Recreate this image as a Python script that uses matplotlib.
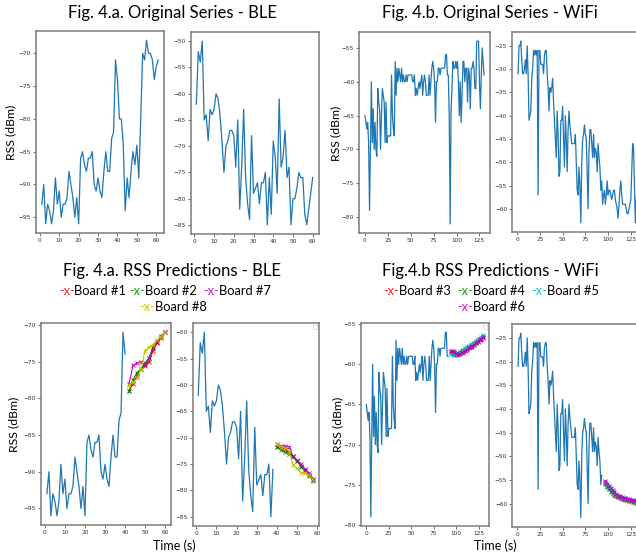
import numpy as np
import matplotlib
matplotlib.use("Agg")
import matplotlib.pyplot as plt
from matplotlib.offsetbox import TextArea, HPacker, AnnotationBbox

# ---- data ----
ble1 = [-93, -90, -96, -93, -94, -96, -94, -89, -93, -91, -95, -93, -93, -92, -88,
        -90, -92, -95, -92, -96, -86, -85, -87, -88, -86, -86, -85, -90, -91, -89,
        -91, -92, -88, -85, -88, -88, -83, -82, -71, -74, -80, -80, -84, -94, -89,
        -92, -88, -85, -87, -84, -89, -80, -70, -71, -68, -70, -70, -71, -74, -72, -71]
ble2 = [-62, -52, -54, -50, -65, -64, -69, -63, -64, -63, -60, -61, -64, -69, -75,
        -70, -69, -67, -67, -68, -74, -65, -82, -74, -63, -76, -81, -84, -68, -79,
        -78, -77, -81, -77, -77, -75, -85, -76, -83, -69, -72, -79, -61, -74, -72,
        -67, -76, -74, -85, -80, -80, -78, -75, -76, -76, -83, -85, -82, -79, -76]
wifi1 = [-65, -66, -67, -66, -69, -79, -69, -60, -69, -64, -70, -66, -70, -71, -61,
         -63, -64, -70, -65, -61, -62, -63, -69, -63, -69, -68, -68, -68, -68, -59,
         -65, -67, -68, -57, -62, -58, -60, -58, -59, -60, -58, -60, -59, -60, -60,
         -59, -60, -59, -59, -59, -59, -59, -60, -60, -59, -62, -61, -62, -61, -60,
         -61, -60, -59, -62, -60, -59, -60, -62, -62, -62, -59, -62, -60, -58, -57,
         -58, -60, -66, -60, -60, -58, -58, -59, -58, -58, -58, -58, -58, -56, -56,
         -59, -59, -65, -81, -64, -61, -57, -58, -58, -57, -58, -57, -60, -65, -60,
         -66, -62, -57, -57, -60, -58, -58, -63, -58, -59, -64, -58, -58, -57, -58,
         -61, -61, -54, -54, -54, -60, -64, -59, -55, -57, -59]
wifi2 = [-31, -25, -25, -24, -28, -31, -31, -30, -28, -31, -25, -31, -41, -40, -39,
         -32, -30, -26, -27, -26, -27, -26, -57, -26, -26, -29, -29, -29, -31, -27,
         -26, -26, -31, -34, -39, -34, -35, -34, -32, -37, -41, -45, -49, -39, -44,
         -53, -52, -41, -41, -38, -45, -51, -40, -45, -52, -43, -39, -42, -44, -46,
         -46, -46, -46, -44, -50, -56, -57, -51, -55, -63, -50, -45, -44, -42, -44,
         -45, -52, -60, -48, -43, -43, -46, -49, -44, -49, -47, -48, -52, -46, -49,
         -51, -56, -54, -59, -57, -56, -59, -57, -54, -57, -56, -56, -57, -58, -57,
         -56, -56, -58, -59, -60, -62, -59, -56, -54, -57, -59, -59, -59, -59, -60,
         -61, -61, -60, -59, -58, -52, -46, -47, -55, -63, -58, -55, -51, -49, -51]

# how much of each series is shown as history in the prediction plots
ble1_hist = 40
ble2_hist = 38
wifi1_hist = 92
wifi2_hist = 93

ble1_pred_t = np.arange(42, 61, 2)
ble1_preds = {
    "#1": [-79.0, -78.0, -77.0, -76.0, -75.5, -75.0, -73.5, -72.5, -71.8, -71.0],
    "#2": [-79.0, -77.5, -76.5, -76.0, -75.2, -74.5, -73.0, -72.3, -71.5, -71.0],
    "#7": [-78.0, -75.5, -75.2, -75.0, -75.6, -74.5, -73.2, -72.4, -71.6, -71.0],
    "#8": [-78.2, -77.8, -77.3, -76.0, -73.5, -73.0, -72.7, -72.0, -71.6, -71.0],
}
ble2_pred_t = np.arange(40, 59, 2)
ble2_preds = {
    "#1": [-71.7, -71.8, -72.2, -72.8, -73.5, -74.5, -75.3, -76.2, -77.0, -78.0],
    "#2": [-71.8, -72.3, -72.7, -73.0, -73.7, -74.5, -75.5, -76.3, -77.2, -78.3],
    "#7": [-71.2, -71.6, -71.6, -71.7, -73.5, -74.3, -75.0, -76.0, -76.7, -77.8],
    "#8": [-71.2, -71.7, -72.0, -72.5, -75.2, -75.8, -76.7, -76.7, -77.0, -78.0],
}
wifi1_pred_t = np.arange(94, 131, 2)
wifi1_preds = {
    "#3": [-58.4, -58.5, -58.6, -58.7, -58.7, -58.6, -58.5, -58.4, -58.2, -58.1,
           -57.9, -57.8, -57.6, -57.5, -57.3, -57.1, -57.0, -56.8, -56.7],
    "#4": [-58.5, -58.6, -58.7, -58.7, -58.6, -58.5, -58.4, -58.3, -58.2, -58.0,
           -57.9, -57.7, -57.6, -57.4, -57.2, -57.1, -56.9, -56.8, -56.6],
    "#5": [-58.7, -58.9, -58.8, -58.8, -58.7, -58.6, -58.4, -58.2, -58.0, -57.9,
           -57.7, -57.6, -57.5, -57.3, -57.1, -56.9, -56.8, -56.6, -56.3],
    "#6": [-58.3, -58.4, -58.5, -58.7, -58.8, -58.7, -58.6, -58.5, -58.3, -58.2,
           -58.0, -57.9, -57.7, -57.6, -57.4, -57.2, -57.0, -56.8, -56.6],
}
wifi2_pred_t = np.arange(97, 136, 2)
wifi2_preds = {
    "#3": [-55.6, -56.2, -56.8, -57.3, -57.7, -58.1, -58.4, -58.7, -58.9, -59.0,
           -59.1, -59.2, -59.3, -59.4, -59.5, -59.6, -59.7, -59.8, -59.9, -60.0],
    "#4": [-55.8, -56.4, -57.0, -57.5, -57.8, -58.1, -58.3, -58.5, -58.7, -58.9,
           -59.0, -59.1, -59.2, -59.3, -59.4, -59.5, -59.7, -59.8, -59.9, -60.1],
    "#5": [-55.5, -56.0, -56.6, -57.0, -57.4, -57.8, -58.1, -58.4, -58.6, -58.8,
           -58.9, -59.0, -59.1, -59.2, -59.3, -59.4, -59.5, -59.6, -59.7, -59.8],
    "#6": [-55.2, -55.8, -56.3, -56.8, -57.2, -57.6, -58.0, -58.3, -58.5, -58.7,
           -58.8, -58.9, -59.0, -59.1, -59.2, -59.3, -59.4, -59.5, -59.6, -59.7],
}
board_colors = {"#1": "r", "#2": "g", "#7": "m", "#8": "y",
                "#3": "r", "#4": "g", "#5": "c", "#6": "m"}

ble1_t = np.arange(1, len(ble1) + 1)
ble2_t = np.arange(1, len(ble2) + 1)
wifi1_t = np.arange(0, len(wifi1))
wifi2_t = np.arange(1, len(wifi2) + 1)

# ---- figure ----
W, H = 636, 557
fig = plt.figure(figsize=(W / 100, H / 100), dpi=100)
FONT = "Lato"


def px_axes(left, top, right, bottom):
    return fig.add_axes([left / W, 1 - bottom / H, (right - left) / W, (bottom - top) / H])


def style(ax):
    for s in ax.spines.values():
        s.set_color("#7a7a7a")
        s.set_linewidth(1.1)
    ax.tick_params(labelsize=4.2, length=2, width=0.6, colors="#555555", labelcolor="#333333", pad=1.5)


def hist_plot(ax, t, y):
    ax.plot(t, y, color="#1f77b4", lw=0.9)


def pred_plot(ax, t, preds):
    for name, vals in preds.items():
        ax.plot(t, vals, "-x", color=board_colors[name], lw=0.8, ms=2.3, mew=0.6)
    leg = ax.legend(handles=[], loc="upper right", fontsize=2.5, borderpad=0.6)
    leg.get_frame().set_linewidth(0.5)


# top row
a1 = px_axes(36, 31, 164, 233)
hist_plot(a1, ble1_t, ble1)
a2 = px_axes(190.5, 32, 318.5, 234)
hist_plot(a2, ble2_t, ble2)
a3 = px_axes(359, 32, 490, 233)
hist_plot(a3, wifi1_t, wifi1)
a4 = px_axes(512, 32, 646, 232)
hist_plot(a4, wifi2_t, wifi2)

# bottom row
a5 = px_axes(41, 323, 171, 525)
hist_plot(a5, ble1_t[:ble1_hist], ble1[:ble1_hist])
pred_plot(a5, ble1_pred_t, ble1_preds)
a6 = px_axes(192.5, 323, 319, 526)
hist_plot(a6, ble2_t[:ble2_hist], ble2[:ble2_hist])
pred_plot(a6, ble2_pred_t, ble2_preds)
a7 = px_axes(360.5, 323, 489, 526)
hist_plot(a7, wifi1_t[:wifi1_hist], wifi1[:wifi1_hist])
pred_plot(a7, wifi1_pred_t, wifi1_preds)
a8 = px_axes(512, 324, 646, 527)
hist_plot(a8, wifi2_t[:wifi2_hist], wifi2[:wifi2_hist])
pred_plot(a8, wifi2_pred_t, wifi2_preds)

for ax in [a1, a2, a3, a4, a5, a6, a7, a8]:
    style(ax)
for ax in [a1, a2, a5, a6]:
    ax.set_xticks([0, 10, 20, 30, 40, 50, 60])
for ax in [a3, a4, a7, a8]:
    ax.set_xticks([0, 25, 50, 75, 100, 125])


def ftext(x, y, s, size, **kw):
    fig.text(x / W, 1 - y / H, s, fontsize=size, family=FONT, ha="center", va="center", **kw)


# titles
ftext(172, 13, "Fig. 4.a. Original Series - BLE", 12)
ftext(490, 13, "Fig. 4.b. Original Series - WiFi", 12)
ftext(172, 271, "Fig. 4.a. RSS Predictions - BLE", 12)
ftext(490, 271, "Fig.4.b RSS Predictions - WiFi", 12)

# axis labels
ftext(11, 132, "RSS (dBm)", 8.8, rotation=90)
ftext(336, 133, "RSS (dBm)", 8.8, rotation=90)
ftext(14, 424, "RSS (dBm)", 8.8, rotation=90)
ftext(338, 424, "RSS (dBm)", 8.8, rotation=90)
ftext(174, 546, "Time (s)", 9)
ftext(495, 546, "Time (s)", 9)


# coloured "-x-Board #n" legends above the prediction plots
def legend_line(x, y, entries):
    kids = []
    for mark_color, label in entries:
        kids.append(TextArea("-x-", textprops=dict(color=mark_color, fontsize=9.3, family=FONT)))
        kids.append(TextArea(label, textprops=dict(color="black", fontsize=9.3, family=FONT)))
    box = HPacker(children=kids, align="baseline", pad=0, sep=0)
    ab = AnnotationBbox(box, (x / W, 1 - y / H), xycoords="figure fraction",
                        frameon=False, box_alignment=(0.5, 0.5), pad=0)
    fig.add_artist(ab)


legend_line(165, 291, [("#ff2020", "Board #1 "), ("#20a020", "Board #2  "), ("#d020d0", "Board #7")])
legend_line(173, 307, [("#c8c800", "Board #8")])
legend_line(491, 291, [("#ff2020", "Board #3  "), ("#20a020", "Board #4  "), ("#20c0c0", "Board #5")])
legend_line(491, 307, [("#d020d0", "Board #6")])

fig.savefig("out.png", dpi=100, facecolor="white")
